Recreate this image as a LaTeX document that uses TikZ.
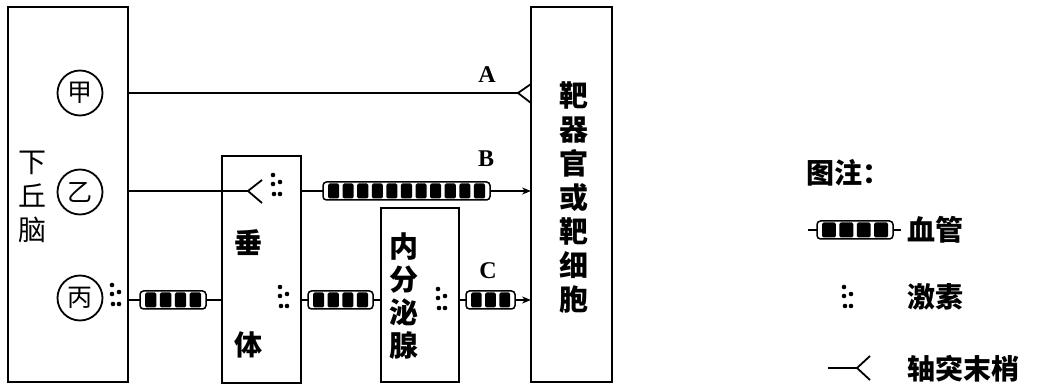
\documentclass[tikz,border=0pt]{standalone}
\usepackage{fontspec}
\newfontfamily\cjk{Noto Sans CJK SC}
\newfontfamily\labfont{Liberation Serif}
\usetikzlibrary{arrows.meta}
\tikzset{
  organ/.style={draw, line width=2pt, inner sep=0pt, outer sep=0pt, anchor=north west},
  nucleus/.style={circle, draw, line width=1.8pt, minimum size=45pt, inner sep=0pt, font=\cjk\fontsize{25}{25}\selectfont},
  conn/.style={line width=1.8pt},
  arr/.style={line width=1.8pt, -{Stealth[length=9pt,width=7pt]}},
  vesselbox/.style={rectangle, draw=none, fill=white, minimum height=18pt, inner sep=0pt, outer sep=0pt},
  vtext/.style={align=center, inner sep=0pt},
  lab/.style={font=\labfont\bfseries\fontsize{24}{24}\selectfont, inner sep=0pt},
  legtext/.style={anchor=west, inner sep=0pt, font=\cjk\bfseries\fontsize{28}{28}\selectfont},
  hormone/.pic={\fill (0,0) circle (2.3pt) (0,9) circle (2.3pt) (7,7) circle (2.3pt) (1,19) circle (2.3pt) (7,19) circle (2.3pt);}
}
\newcommand\bloodvessel[5]{%
  \pgfmathsetmacro\bvW{#3-#2}%
  \pgfmathsetmacro\bvX{(#2+#3)/2}%
  \node[vesselbox, minimum width=\bvW pt] (#1) at (\bvX,#4) {};%
  \pgfmathsetmacro\bvB{(\bvW-3-(#5+1)*3.5)/#5}%
  \foreach \bvI in {1,...,#5}{%
    \pgfmathsetmacro\bvXa{#2+1.5+3.5+(\bvI-1)*(\bvB+3.5)}%
    \fill[rounded corners=1.5pt] (\bvXa,#4-7.5) rectangle ++(\bvB,15);%
  }%
  \draw[line width=1.5pt, rounded corners=3.5pt] (#1.north west) rectangle (#1.south east);%
}
\begin{document}
\begin{tikzpicture}[x=1pt,y=-1pt]
\useasboundingbox (0,0) rectangle (1042,387);
% boxes
\node[organ, minimum width=120pt, minimum height=375pt] (hyp) at (8,7) {};
\node[organ, minimum width=79pt, minimum height=227pt] (pit) at (222,156) {};
\node[organ, minimum width=78pt, minimum height=174pt] (endo) at (381,208) {};
\node[organ, minimum width=81pt, minimum height=375pt] (tgt) at (531,7) {};
% box texts
\node[vtext, font=\cjk\fontsize{28}{34}\selectfont] (hyptext) at (32,197) {下\\丘\\脑};
\node[vtext, font=\cjk\bfseries\fontsize{28}{28}\selectfont] (pittext1) at (248,243) {垂};
\node[vtext, font=\cjk\bfseries\fontsize{28}{28}\selectfont] (pittext2) at (248,345) {体};
\node[vtext, font=\cjk\bfseries\fontsize{29}{33}\selectfont] (endotext) at (404,296) {内\\分\\泌\\腺};
\node[vtext, font=\cjk\bfseries\fontsize{29}{34}\selectfont] (tgttext) at (574,198) {靶\\器\\官\\或\\靶\\细\\胞};
% nuclei
\node[nucleus] (jia) at (80,93) {甲};
\node[nucleus] (yi) at (80,192) {乙};
\node[nucleus] (bing) at (80,298) {丙};
% A: nerve to target
\coordinate (aT) at (518,93);
\coordinate (aU) at (531,84);
\coordinate (aD) at (531,103);
\draw[conn] (hyp.east |- jia) -- (aT);
\draw[conn] (aU) -- (aT) -- (aD);
\node[lab] (labA) at (487,75) {A};
% B: nerve into pituitary
\coordinate (bT) at (248,191);
\coordinate (bU) at (262,180);
\coordinate (bD) at (262,203);
\draw[conn] (hyp.east |- bT) -- (bT);
\draw[conn] (bU) -- (bT) -- (bD);
\pic at (273,175) {hormone};
\bloodvessel{vb}{323}{490}{191}{11}
\draw[conn] (pit.east |- vb) -- (vb.west);
\draw[arr] (vb.east) -- (tgt.west |- vb);
\node[lab] (labB) at (486,159) {B};
% C: hypothalamus -> pituitary -> gland -> target
\pic at (112,285) {hormone};
\bloodvessel{v1}{140}{206}{300}{4}
\draw[conn] (hyp.east |- v1) -- (v1.west);
\draw[conn] (v1.east) -- (pit.west |- v1);
\pic at (280,287) {hormone};
\bloodvessel{v2}{308}{373}{300}{4}
\draw[conn] (pit.east |- v2) -- (v2.west);
\draw[conn] (v2.east) -- (endo.west |- v2);
\pic at (438,289) {hormone};
\bloodvessel{vc}{466}{515}{300}{3}
\draw[conn] (endo.east |- vc) -- (vc.west);
\draw[arr] (vc.east) -- (tgt.west |- vc);
\node[lab] (labC) at (488,271) {C};
% legend
\node[legtext] (legtitle) at (806,173) {图注：};
\bloodvessel{lv}{817}{893}{230}{4}
\coordinate (lvl) at (808,230);
\coordinate (lvr) at (901,230);
\draw[conn] (lvl) -- (lv.west);
\draw[conn] (lv.east) -- (lvr);
\node[legtext] (legv) at (907,230) {血管};
\pic at (844,287) {hormone};
\node[legtext] (legh) at (907,297) {激素};
\coordinate (lal) at (828,368);
\coordinate (laT) at (857,368);
\coordinate (laU) at (870,356);
\coordinate (laD) at (870,380);
\draw[conn] (lal) -- (laT);
\draw[conn] (laU) -- (laT) -- (laD);
\node[legtext] (lega) at (907,369) {轴突末梢};
\end{tikzpicture}
\end{document}
